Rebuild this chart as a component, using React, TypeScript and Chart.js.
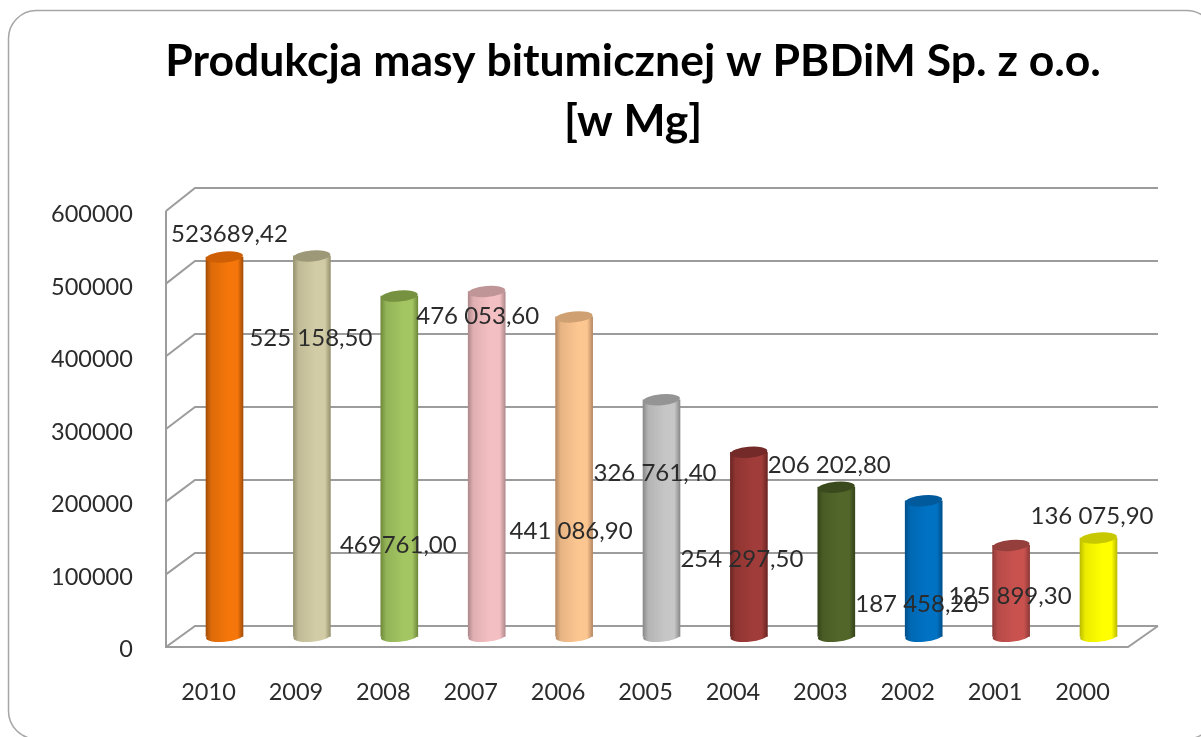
import React, { useEffect, useRef } from "react";
import { Chart, registerables } from "chart.js";

Chart.register(...registerables);

const years = ["2010", "2009", "2008", "2007", "2006", "2005", "2004", "2003", "2002", "2001", "2000"];
const production = [523689.42, 525158.5, 469761, 476053.6, 441086.9, 326761.4, 254297.5, 206202.8, 187458.2, 125899.3, 136075.9];
const valueLabels = ["523689,42", "525 158,50", "469761,00", "476 053,60", "441 086,90", "326 761,40", "254 297,50", "206 202,80", "187 458,20", "125 899,30", "136 075,90"];
const titleLines = ["Produkcja masy bitumicznej w PBDiM Sp. z o.o.", "[w Mg]"];

// [edge shade, face highlight, top cap]
const barColours = [
  ["#A44E08", "#F5760A", "#CF5F05"],
  ["#97936F", "#D2CCA6", "#9C9878"],
  ["#6F8A3C", "#A3C562", "#76913F"],
  ["#B08A8C", "#F4BFC2", "#C09598"],
  ["#B78A63", "#FCC691", "#CFA072"],
  ["#8A8A8A", "#C6C6C6", "#949494"],
  ["#6B2523", "#A03C39", "#742A28"],
  ["#36451A", "#52662A", "#3B4A1D"],
  ["#00508C", "#0072C4", "#005A9C"],
  ["#8E3A38", "#C9524F", "#943F3C"],
  ["#BDBD00", "#FFFF00", "#C8C800"],
];

// label shift from the top of each bar, as placed in the source chart
const labelShiftX = [5, -1, -1, -9, -3, -6.5, -7, -7, -7, -1, -6.5];
const labelShiftY = [-24, 81, 248, 24, 213, 72, 106, -23, 102, 50, -23];

const FONT = "Lato";
const LABEL_FONT = `24px ${FONT}`;
const TEXT = "#2B2B2B";
const LINE = "#9C9C9C";
const BAR_W = 37;
const WALL_X = 166;
const BACK_X = 195;
const BACK_RIGHT = 1158;
const FLOOR_RIGHT = 1128;
const TITLE_SHIFT = 37;

const backY = (px: number, v: number) => px - 10.7 - (v / 600000) * 3;
const frontY = (px: number, v: number) => px + 10.3 - (v / 600000) * 1;

const mix = (a: string, b: string, t: number) => {
  const ch = (h: string, o: number) => parseInt(h.slice(o, o + 2), 16);
  const v = [1, 3, 5].map((o) => Math.round(ch(a, o) * (1 - t) + ch(b, o) * t));
  return `rgb(${v[0]},${v[1]},${v[2]})`;
};

const cardPlugin = {
  id: "card",
  afterLayout(chart: any) {
    // the source title sits right of the canvas centre
    chart.titleBlock.left += TITLE_SHIFT;
    chart.titleBlock.right += TITLE_SHIFT;
  },
  beforeDraw(chart: any) {
    const c = chart.ctx;
    c.save();
    c.fillStyle = "#FFFFFF";
    c.fillRect(0, 0, chart.width, chart.height);
    c.strokeStyle = "#A6A6A6";
    c.lineWidth = 1.5;
    c.beginPath();
    c.roundRect(8.5, 10.5, 1206, 728.5, 28);
    c.stroke();
    c.restore();
  },
};

const wallPlugin = {
  id: "walls",
  beforeDatasetsDraw(chart: any) {
    const c = chart.ctx;
    const y = chart.scales.y;
    c.save();
    c.strokeStyle = LINE;
    c.lineWidth = 2;
    c.beginPath();
    for (const t of y.ticks) {
      const px = y.getPixelForValue(t.value);
      const b = backY(px, t.value);
      const f = frontY(px, t.value);
      c.moveTo(WALL_X, f);
      c.lineTo(BACK_X, b);
      c.lineTo(BACK_RIGHT, b);
    }
    const zero = y.getPixelForValue(0);
    const topPx = y.getPixelForValue(600000);
    c.moveTo(WALL_X, frontY(topPx, 600000));
    c.lineTo(WALL_X, frontY(zero, 0));
    c.lineTo(FLOOR_RIGHT, frontY(zero, 0));
    c.lineTo(BACK_RIGHT, backY(zero, 0));
    c.stroke();
    c.restore();
  },
};

const cylinderPlugin = {
  id: "cylinder",
  afterDatasetsDraw(chart: any) {
    const c = chart.ctx;
    const meta = chart.getDatasetMeta(0);
    meta.data.forEach((bar: any, i: number) => {
      const rx = BAR_W / 2;
      const tilt = -0.09;
      const fill = chart.data.datasets[0].backgroundColor({ chart, dataIndex: i });
      c.save();
      c.fillStyle = fill;
      c.beginPath();
      c.ellipse(bar.x, bar.base, rx, 5, tilt, 0, Math.PI * 2);
      c.fill();
      c.fillStyle = barColours[i][2];
      c.beginPath();
      c.ellipse(bar.x, bar.y, rx, 5.5, tilt, 0, Math.PI * 2);
      c.fill();
      c.restore();
    });
    c.save();
    c.font = LABEL_FONT;
    c.fillStyle = TEXT;
    c.textAlign = "center";
    c.textBaseline = "middle";
    meta.data.forEach((bar: any, i: number) => {
      c.fillText(valueLabels[i], bar.x + labelShiftX[i], bar.y + labelShiftY[i] + 1);
    });
    c.restore();
  },
};

export default function App() {
  const ref = useRef<HTMLCanvasElement>(null);
  useEffect(() => {
    if (!ref.current) return;
    const chart = new Chart(ref.current, {
      type: "bar",
      data: {
        labels: years,
        datasets: [
          {
            data: production,
            barThickness: BAR_W,
            borderWidth: 0,
            backgroundColor: (ctx: any) => {
              const { chart: ch, dataIndex: i } = ctx;
              if (!ch.chartArea || i === undefined) return barColours[0][1];
              const cx = ch.scales.x.getPixelForValue(i);
              const g = ch.ctx.createLinearGradient(cx - BAR_W / 2, 0, cx + BAR_W / 2, 0);
              const [edge, face] = barColours[i];
              g.addColorStop(0, edge);
              g.addColorStop(0.14, mix(edge, face, 0.7));
              g.addColorStop(0.6, face);
              g.addColorStop(0.85, face);
              g.addColorStop(1, edge);
              return g;
            },
          },
        ],
      },
      options: {
        responsive: false,
        animation: false,
        layout: { autoPadding: false, padding: { left: 50, right: 58.8, top: 0, bottom: 0.3 } },
        plugins: {
          legend: { display: false },
          tooltip: { enabled: false },
          title: {
            display: true,
            text: titleLines,
            color: "#000000",
            font: { family: FONT, weight: "bold", size: 44.5, lineHeight: 1.348 },
            padding: { top: 31.5, bottom: 50.2 },
          },
        },
        scales: {
          x: {
            grid: { display: false },
            border: { display: false },
            afterFit: (s: any) => { s.height = 100; },
            ticks: { color: TEXT, font: { family: FONT, size: 23.5 }, padding: 34, labelOffset: -16, maxRotation: 0, autoSkip: false },
          },
          y: {
            min: 0,
            max: 600000,
            grid: { display: false },
            border: { display: false },
            afterFit: (s: any) => { s.width = 130.8; },
            ticks: {
              stepSize: 100000,
              color: TEXT,
              font: { family: FONT, size: 23.5 },
              padding: 40,
              labelOffset: 13,
              callback: (v: any) => String(v),
            },
          },
        },
      },
      plugins: [cardPlugin, wallPlugin, cylinderPlugin],
    } as any);
    return () => chart.destroy();
  }, []);
  return (
    <div style={{ position: "absolute", left: 0, top: 0, width: 1201, height: 737, overflow: "hidden" }}>
      <canvas ref={ref} width={1201} height={737} style={{ display: "block", filter: "blur(0.5px)" }} />
    </div>
  );
}
